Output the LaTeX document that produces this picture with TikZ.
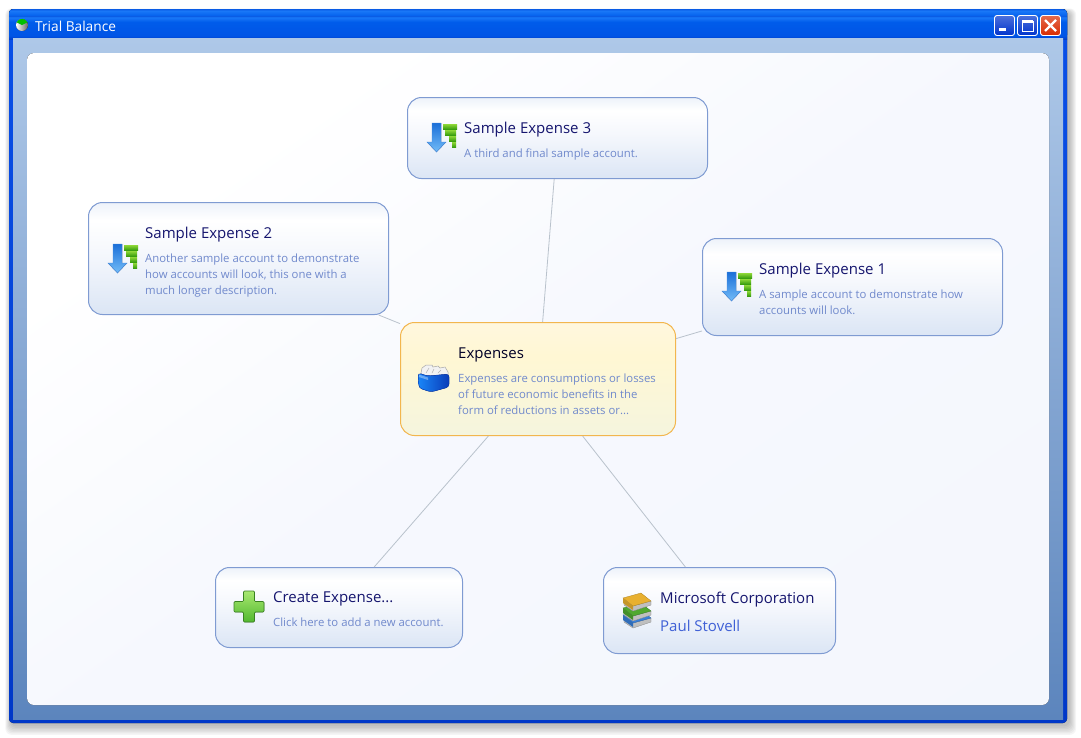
\documentclass[tikz,border=0pt]{standalone}
\usepackage{fontspec}
\setmainfont{Open Sans}
\definecolor{cardline}{HTML}{7F9BD2}
\definecolor{hotline}{HTML}{F2B64E}
\definecolor{edgeline}{HTML}{B9C2CC}
\definecolor{headtext}{HTML}{15156E}
\definecolor{desctext}{HTML}{7089CC}
\definecolor{linktext}{HTML}{3F60D6}
\definecolor{frametop}{HTML}{0A50E8}
\definecolor{framebot}{HTML}{0038C8}
\definecolor{areatop}{HTML}{AEC8E8}
\definecolor{areabot}{HTML}{5C85BD}
\definecolor{arrowtop}{HTML}{1B6FD8}
\definecolor{arrowbot}{HTML}{72BCF8}
\definecolor{bartop}{HTML}{8FD838}
\definecolor{barbot}{HTML}{3A9E10}
\definecolor{plustop}{HTML}{A8E870}
\definecolor{plusbot}{HTML}{52B830}
\definecolor{tubleft}{HTML}{1A86F8}
\definecolor{tubright}{HTML}{0A3CB8}
\definecolor{bookyellow}{HTML}{E8B030}
\definecolor{bookgreen}{HTML}{50A830}
\definecolor{bookblue}{HTML}{3A80D8}
\pgfdeclareverticalshading{cardfill}{100bp}{rgb(0bp)=(0.86,0.90,0.96);
  rgb(25bp)=(0.86,0.90,0.96); rgb(52bp)=(0.96,0.97,0.99); rgb(67bp)=(1,1,1);
  rgb(75bp)=(0.93,0.95,0.98); rgb(100bp)=(0.93,0.95,0.98)}
\pgfdeclareverticalshading{hotfill}{100bp}{rgb(0bp)=(0.96,0.96,0.87);
  rgb(25bp)=(0.96,0.96,0.87); rgb(60bp)=(1,0.97,0.83);
  rgb(75bp)=(1,0.97,0.87); rgb(100bp)=(1,0.97,0.87)}
\pgfdeclareverticalshading{barfill}{100bp}{rgb(0bp)=(0,0.25,0.80);
  rgb(25bp)=(0,0.25,0.80); rgb(32bp)=(0,0.33,0.90); rgb(62bp)=(0,0.36,0.92);
  rgb(72bp)=(0.10,0.47,0.97); rgb(75bp)=(0.04,0.36,0.90); rgb(100bp)=(0.04,0.36,0.90)}
\pgfdeclareverticalshading{panelfill}{100bp}{rgb(0bp)=(0.955,0.967,0.992);
  rgb(50bp)=(0.965,0.973,0.995); rgb(72bp)=(1,1,1); rgb(100bp)=(1,1,1)}
\tikzset{
  cardbody/.style={draw=cardline, rounded corners=14pt, shading=cardfill, line width=1pt, inner sep=0pt},
  hotbody/.style={cardbody, draw=hotline, shading=hotfill},
  linkedge/.style={draw=edgeline, line width=0.8pt},
  headlabel/.style={anchor=base west, inner sep=0pt, text=headtext, font=\fontsize{15}{16}\selectfont},
  desclabel/.style={anchor=north west, inner sep=0pt, align=left, text=desctext, font=\fontsize{11.35}{16}\selectfont},
  winbutton/.style={draw=white, line width=0.9pt, rounded corners=2.5pt, top color=#1!70!white, bottom color=#1, minimum size=20pt, inner sep=0pt},
}
% name, left, top, right, bottom, style
\newcommand{\cardbox}[6]{%
  \node[#6, minimum width={(#4-#2)*1pt}, minimum height={(#5-#3)*1pt}] (#1) at ({(#2+#4)/2+.5},{(#3+#5)/2+.5}) {};
}
\newcommand{\arrowicon}[2]{%
  \begin{scope}[shift={(#1,#2)}]
    \fill[top color=arrowtop, bottom color=arrowbot, draw=arrowtop!80!white, line width=0.4pt]
      (5,0) -- (14,0) -- (14,19) -- (19,19) -- (9.5,29) -- (0,19) -- (5,19) -- cycle;
    \foreach \x/\y/\w in {16/1/14, 18/7/11, 22/13/7, 25/19/4} {
      \fill[top color=bartop, bottom color=barbot] (\x,\y) rectangle +(\w,5);
    }
  \end{scope}
}
\newcommand{\tubicon}[2]{%
  \begin{scope}[shift={(#1,#2)}]
    \fill[black!5, draw=black!35, line width=0.5pt] (3,9) -- (4,4) -- (8,1) -- (14,1) -- (15,3) -- (20,2) -- (22,4) -- (27,3) -- (30,8) -- (30,14) -- (6,14) -- cycle;
    \draw[black!30, line width=0.5pt] (8,9) -- (11,4) (14,9) -- (16,5) (20,9) -- (23,6);
    \fill[left color=tubleft, right color=tubright, draw=tubright, line width=0.4pt, rounded corners=3pt]
      (0,9) -- (10,12) -- (31,10) -- (31,23) -- (13,28) -- (1,24) -- cycle;
    \fill[white, opacity=0.35] (1,10.5) -- (10,13.5) -- (10,16) -- (1,13) -- cycle;
  \end{scope}
}
\newcommand{\plusicon}[2]{%
  \begin{scope}[shift={(#1,#2)}]
    \fill[top color=plustop, bottom color=plusbot, draw=plusbot!70!black, line width=0.6pt, rounded corners=1pt]
      (9.5,0) -- (20.5,0) -- (20.5,10.5) -- (30,10.5) -- (30,21) -- (20.5,21) -- (20.5,31) -- (9.5,31) -- (9.5,21) -- (0,21) -- (0,10.5) -- (9.5,10.5) -- cycle;
  \end{scope}
}
\newcommand{\booksicon}[2]{%
  \begin{scope}[shift={(#1,#2)}]
    \foreach \y/\c in {17/bookblue, 10/bookgreen, 0/bookyellow} {
      \fill[black!25, draw=black!45, line width=0.3pt] (1,\y+7) -- (10,\y+13) -- (28,\y+8) -- (28,\y+12) -- (10,\y+18) -- (1,\y+12) -- cycle;
      \fill[\c, draw=\c!75!black, line width=0.3pt] (0,\y+5) -- (18,\y) -- (28,\y+8) -- (10,\y+13) -- cycle;
      \fill[\c!85!black] (0,\y+5) -- (10,\y+13) -- (10,\y+17) -- (0,\y+10) -- cycle;
    }
  \end{scope}
}

\begin{document}
\begin{tikzpicture}[x=1pt,y=-1pt]
  \useasboundingbox (0,0) rectangle (1081,737);
  % shadow of the window
  \foreach \s in {1,...,7} {
    \fill[black, opacity=0.04, rounded corners=6pt] (11-\s*0.8,12-\s*0.5) rectangle (1069+\s,725+\s*1.4);
  }
  % frame
  \fill[top color=frametop, bottom color=framebot, rounded corners=4pt] (9,9) rectangle (1067,723);
  \fill[shading=barfill, rounded corners=4pt] (9,9) rectangle (1067,39);
  \fill[shading=barfill] (9,16) rectangle (1067,39);
  \fill[top color=areatop, bottom color=areabot] (13,38) rectangle (1063,719);
  \fill[shading=panelfill, shading angle=35, rounded corners=7pt] (27,53) rectangle (1049,705);
  % title bar
  \fill[left color=white, right color=black!60] (22,25) circle (6);
  \fill[green!75!black] (22,25) -- (16.6,22.4) arc (-155:-25:6) -- cycle;
  \node[anchor=base west, inner sep=0pt, text=white, font=\fontsize{13.7}{16}\selectfont] (wintitle) at (35,31) {Trial Balance};
  \node[winbutton=blue!75!cyan!80!black] (btnmin) at (1004.5,25.5) {};
  \node[winbutton=blue!75!cyan!80!black] (btnmax) at (1027.5,25.5) {};
  \node[winbutton=red!60!orange!85!black] (btnclose) at (1050.5,25.5) {};
  \fill[white] (999,28) rectangle (1006,31);
  \draw[white, line width=1pt] (1022,21) rectangle (1033,31);
  \fill[white] (1022,20) rectangle (1033,23);
  \draw[white, line width=2.4pt] (1045,20) -- (1056,31) (1056,20) -- (1045,31);
  % cards
  \cardbox{expthree}{407}{97}{707}{178}{cardbody}
  \cardbox{exptwo}{88}{202}{388}{314}{cardbody}
  \cardbox{expone}{702}{238}{1002}{335}{cardbody}
  \cardbox{expenses}{400}{322}{675}{435}{hotbody}
  \cardbox{create}{215}{567}{462}{647}{cardbody}
  \cardbox{company}{603}{567}{835}{653}{cardbody}
  \foreach \a in {expthree,exptwo,expone,create,company} {
    \draw[linkedge] (expenses) -- (\a);
  }
  % icons
  \arrowicon{427}{123}
  \arrowicon{108}{244}
  \arrowicon{722}{272}
  \tubicon{418}{364}
  \plusicon{234}{591}
  \booksicon{623}{593}
  % texts
  \node[headlabel] (headthree) at (464,133) {Sample Expense 3};
  \node[desclabel] (descthree) at (464,149) {A third and final sample account.};
  \node[headlabel] (headtwo) at (145,238) {Sample Expense 2};
  \node[desclabel] (desctwo) at (145,254) {Another sample account to demonstrate\\how accounts will look, this one with a\\much longer description.};
  \node[headlabel] (headone) at (759,274) {Sample Expense 1};
  \node[desclabel] (descone) at (759,290) {A sample account to demonstrate how\\accounts will look.};
  \node[headlabel, text=black!85!blue] (headexp) at (458,358) {Expenses};
  \node[desclabel] (descexp) at (458,374) {Expenses are consumptions or losses\\of future economic benefits in the\\form of reductions in assets or...};
  \node[headlabel] (headcreate) at (273,602) {Create Expense...};
  \node[desclabel] (desccreate) at (273,618) {Click here to add a new account.};
  \node[headlabel] (headcompany) at (660,603) {Microsoft Corporation};
  \node[headlabel, text=linktext] (headperson) at (660,631) {Paul Stovell};
\end{tikzpicture}
\end{document}
